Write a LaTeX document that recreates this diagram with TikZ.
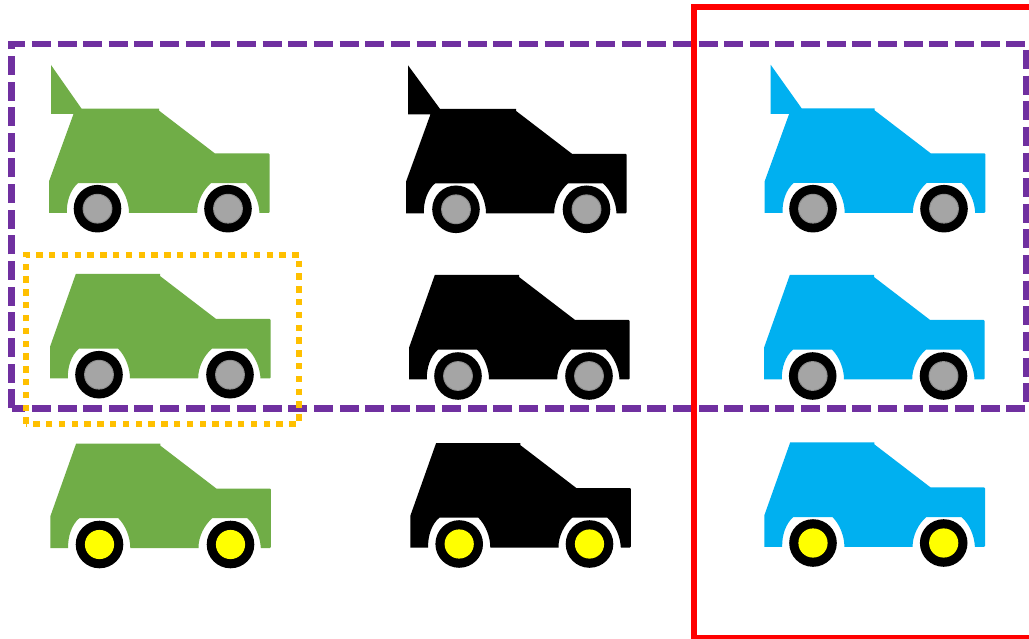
\documentclass[tikz,border=0pt]{standalone}
\definecolor{cgreen}{HTML}{70AD47}
\definecolor{cblue}{HTML}{00B0F0}
\definecolor{cgray}{HTML}{A5A5A5}
\definecolor{cgrayedge}{HTML}{8C8C8C}
\definecolor{cyel}{HTML}{FFFF00}
\definecolor{cpurple}{HTML}{7030A0}
\definecolor{cgold}{HTML}{FFC000}
\definecolor{cred}{HTML}{FF0000}
\tikzset{
  x=1pt,y=-1pt,
  framebase/.style={line width=6.2pt,line cap=butt,line join=miter},
  purpleframe/.style={framebase,line width=6.6pt,draw=cpurple,dash pattern=on 19pt off 6.64pt},
  goldframe/.style={framebase,draw=cgold,dash pattern=on 6.4pt off 6.4pt},
  redframe/.style={framebase,line width=6.5pt,draw=cred},
}
% #1 left, #2 bottom, #3 body colour, #4 roof-left outline
\newcommand\carbody[4]{%
  \fill[#3] (#1,#2) -- ++(0,-31.6) #4
    -- (#1+110,#2-104.4) -- (#1+110,#2-102.4) -- (#1+166,#2-59.5)
    -- (#1+219.6,#2-59.5) to[out=0,in=-90] (#1+220.6,#2-58.5)
    -- (#1+220.6,#2-1) to[out=90,in=0] (#1+219.6,#2) -- (#1+210.5,#2)
    .. controls (#1+210,#2-11) and (#1+205,#2-23) .. (#1+197,#2-29.8)
    -- (#1+162,#2-29.8)
    .. controls (#1+154,#2-23) and (#1+148,#2-11) .. (#1+148.2,#2)
    -- (#1+80,#2)
    .. controls (#1+80,#2-11) and (#1+75,#2-23) .. (#1+68,#2-29.8)
    -- (#1+29,#2-29.8)
    .. controls (#1+21,#2-23) and (#1+17.5,#2-11) .. (#1+17.8,#2)
    -- cycle;
}
% #1 centre x, #2 centre y, #3 hub colour
\newcommand\graywheel[2]{%
  \fill[black] (#1,#2) circle[radius=23.8];
  \fill[cgrayedge] (#1,#2) circle[radius=14.9];
  \fill[cgray] (#1,#2) circle[radius=13.9];
}
\newcommand\yellowwheel[2]{%
  \fill[black] (#1,#2) circle[radius=23.8];
  \fill[cyel] (#1,#2) circle[radius=14.6];
}
% #1 left, #2 bottom, #3 spoiler tip offset, #4 roof start offset
\newcommand\spoilroof[4]{-- (#1+24.5,#2-99) -- (#1+#3,#2-99) -- (#1+#3,#2-148) -- (#1+#4,#2-104.4)}
\newcommand\plainroof[2]{-- (#1+25.8,#2-104.4)}
\begin{document}
\begin{tikzpicture}
\useasboundingbox (0,0) rectangle (1029,639);
\clip (0,0) rectangle (1029,639);
\fill[white] (0,0) rectangle (1029,639);
% row 1
\carbody{49}{213}{cgreen}{\spoilroof{49}{213}{2}{32.5}}
\graywheel{97.5}{208.7}\graywheel{228}{208.7}
\carbody{406}{213.3}{black}{\spoilroof{406}{213.3}{2}{34}}
\graywheel{456}{209.3}\graywheel{586.5}{209.3}
\carbody{764.7}{212.8}{cblue}{\spoilroof{764.7}{212.8}{6}{37}}
\graywheel{813}{208.7}\graywheel{944}{208.7}
% row 2
\carbody{50}{378.4}{cgreen}{\plainroof{50}{378.4}}
\graywheel{99}{374.7}\graywheel{230}{374.7}
\carbody{409}{379.4}{black}{\plainroof{409}{379.4}}
\graywheel{458}{376}\graywheel{589}{376}
\carbody{764}{379.4}{cblue}{\plainroof{764}{379.4}}
\graywheel{812.7}{376}\graywheel{943.5}{376}
% row 3
\carbody{50.3}{548}{cgreen}{\plainroof{50.3}{548}}
\yellowwheel{99.5}{544.5}\yellowwheel{230.5}{544.5}
\carbody{410.3}{547.5}{black}{\plainroof{410.3}{547.5}}
\yellowwheel{459.2}{544}\yellowwheel{589.5}{544}
\carbody{764.4}{546.8}{cblue}{\plainroof{764.4}{546.8}}
\yellowwheel{813}{543}\yellowwheel{943.7}{543}
% frames
\draw[purpleframe] (11.5,408.2) -- (11.5,44) -- (1025.9,44) -- (1025.9,408.2) -- cycle;
\draw[redframe] (693.8,7) rectangle (1045,638);
\draw[goldframe] (26,423.7) -- (26,254.7) -- (299,254.7) -- (299,423.7) -- cycle;
\end{tikzpicture}
\end{document}
